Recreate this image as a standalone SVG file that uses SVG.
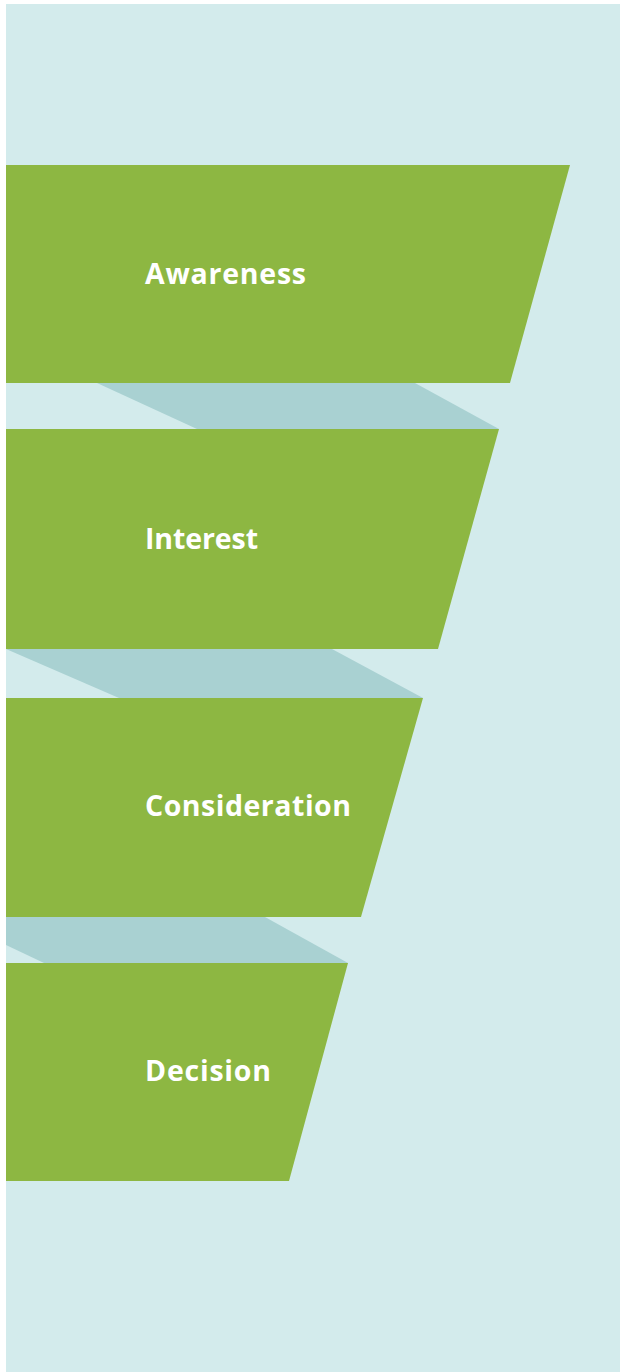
<svg xmlns="http://www.w3.org/2000/svg" width="620" height="1372" viewBox="0 0 620 1372">
  <style>
    .stage { fill: #8db742; }
    .fold { fill: #a9d1d2; }
    .label { fill: #ffffff; font-family: "Open Sans", Lato, "Liberation Sans", sans-serif; font-weight: 700; font-size: 28.5px; }
  </style>
  <rect x="0" y="0" width="620" height="1372" fill="#ffffff"/>
  <rect x="6" y="4" width="614" height="1368" fill="#d3ebec"/>

  <!-- folds between the funnel stages -->
  <g id="connectors">
    <polygon class="fold" points="97,383 415,383 499,429 197,429"/>
    <polygon class="fold" points="6,649 332,649 423,698 119,698"/>
    <polygon class="fold" points="6,917 265,917 348,963 44,963 6,945"/>
  </g>

  <g id="awareness">
    <polygon class="stage" points="6,165 570,165 510,383 6,383"/>
    <text class="label" x="145" y="284" textLength="161">Awareness</text>
  </g>
  <g id="interest">
    <polygon class="stage" points="6,429 499,429 438,649 6,649"/>
    <text class="label" x="145" y="549" textLength="113">Interest</text>
  </g>
  <g id="consideration">
    <polygon class="stage" points="6,698 423,698 361,917 6,917"/>
    <text class="label" x="145" y="816" textLength="206">Consideration</text>
  </g>
  <g id="decision">
    <polygon class="stage" points="6,963 348,963 289,1181 6,1181"/>
    <text class="label" x="145" y="1081" textLength="126">Decision</text>
  </g>
</svg>
